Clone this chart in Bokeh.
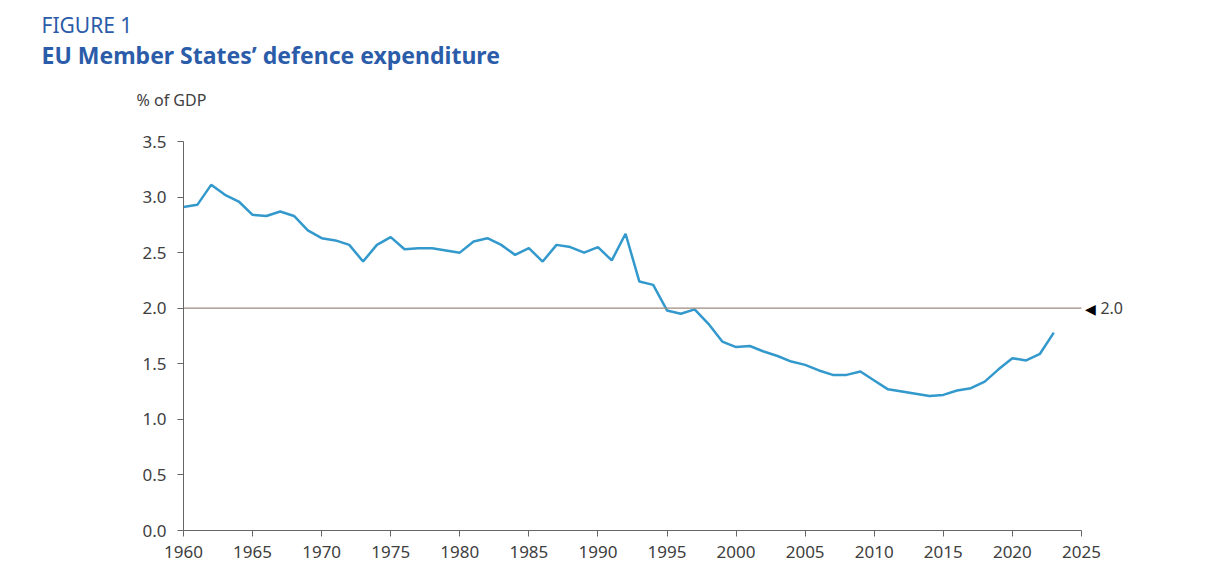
import math
from bokeh.plotting import figure
from bokeh.models import Range1d, Title, FixedTicker, NumeralTickFormatter
from bokeh.core.properties import value
from bokeh.embed import file_html
from bokeh.resources import INLINE

years = list(range(1960, 2024))
spending = [
    2.91, 2.93, 3.11, 3.02, 2.96, 2.84, 2.83, 2.87, 2.83, 2.70,
    2.63, 2.61, 2.57, 2.42, 2.57, 2.64, 2.53, 2.54, 2.54, 2.52,
    2.50, 2.60, 2.63, 2.57, 2.48, 2.54, 2.42, 2.57, 2.55, 2.50,
    2.55, 2.43, 2.67, 2.24, 2.21, 1.98, 1.95, 1.99, 1.86, 1.70,
    1.65, 1.66, 1.61, 1.57, 1.52, 1.49, 1.44, 1.40, 1.40, 1.43,
    1.35, 1.27, 1.25, 1.23, 1.21, 1.22, 1.26, 1.28, 1.34, 1.45,
    1.55, 1.53, 1.59, 1.78,
]
x_ticks = list(range(1960, 2030, 5))
y_ticks = [0.0, 0.5, 1.0, 1.5, 2.0, 2.5, 3.0, 3.5]
target = 2.0
target_label = "2.0"

FONT = "Noto Sans"
BLUE = "#2b5ca9"
GREY = "#404040"

p = figure(width=1204, height=565, output_backend="svg", toolbar_location=None,
           title=None,
           x_range=Range1d(1960, 2030), y_range=Range1d(0, 3.5),
           min_border_left=183, min_border_right=54, min_border_top=141,
           min_border_bottom=35)
p.outline_line_color = None
p.grid.visible = False
p.background_fill_color = "white"
p.border_fill_color = "white"

p.line(years, spending, line_color="#3399cc", line_width=2.5)
p.line([x_ticks[0], x_ticks[-1]], [target, target], line_color="#9c8a80", line_width=1.2)

for ax in (p.xaxis[0], p.yaxis[0]):
    ax.axis_line_color = "#666666"
    ax.major_tick_line_color = "#666666"
    ax.major_tick_in = 0
    ax.major_tick_out = 6
    ax.minor_tick_line_color = None
    ax.major_label_text_font = FONT
    ax.major_label_text_font_size = "17px"
    ax.major_label_text_color = GREY
p.xaxis[0].ticker = FixedTicker(ticks=x_ticks)
p.xaxis[0].bounds = (x_ticks[0], x_ticks[-1])
p.yaxis[0].ticker = FixedTicker(ticks=y_ticks)
p.yaxis[0].formatter = NumeralTickFormatter(format="0.0")
p.xaxis[0].major_label_standoff = 9
p.yaxis[0].major_label_standoff = 11

# marker for the 2.0 target
p.text(x=[x_ticks[-1]], y=[target], text=["\u25c0"], x_offset=4,
       text_font=value(FONT), text_font_size="14px", text_color="black",
       text_baseline="middle", text_align="left")
p.text(x=[x_ticks[-1]], y=[target], text=[target_label], x_offset=19,
       text_font=value(FONT), text_font_size="16px", text_color=GREY,
       text_baseline="middle", text_align="left")

# titles
p.add_layout(Title(text="% of GDP", align="left", offset=-47, standoff=58,
                   vertical_align="top",
                   text_font=FONT, text_font_size="16px", text_font_style="normal",
                   text_color=GREY), "above")
p.add_layout(Title(text="EU Member States\u2019 defence expenditure", align="left",
                   offset=-142, standoff=-23, vertical_align="bottom",
                   text_font=FONT, text_font_size="23px",
                   text_font_style="bold", text_color=BLUE), "above")
p.add_layout(Title(text="FIGURE 1", align="left", offset=-142, standoff=15,
                   vertical_align="top",
                   text_font=FONT, text_font_size="21px", text_font_style="normal",
                   text_color=BLUE), "above")

open("out.html", "w").write(file_html(p, INLINE))
